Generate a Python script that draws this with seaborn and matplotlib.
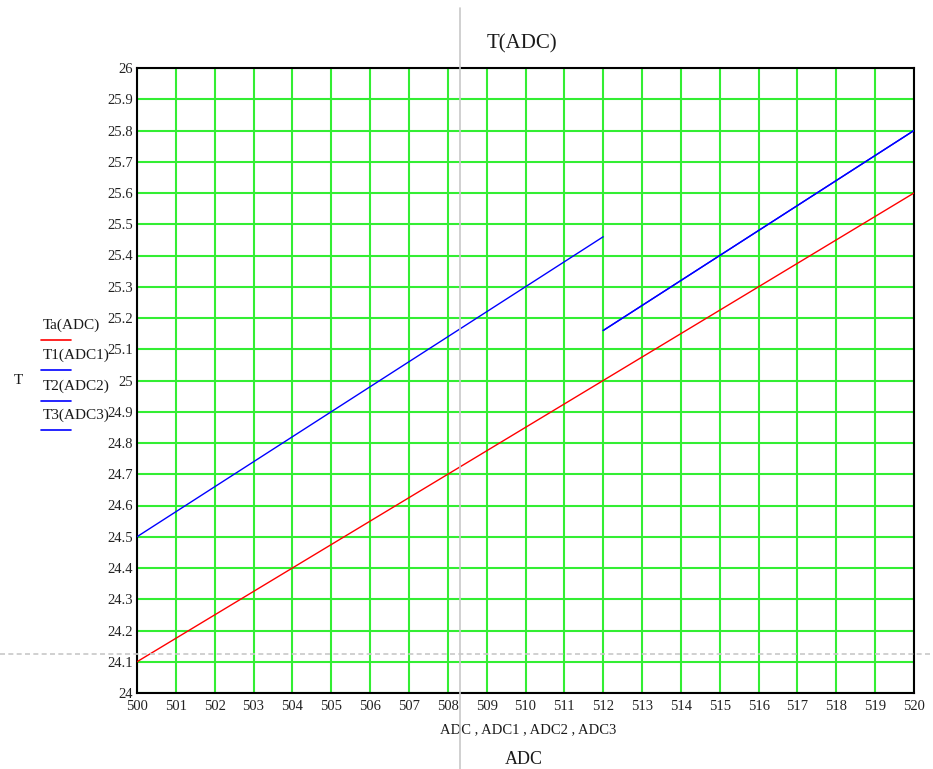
import matplotlib
matplotlib.use("Agg")
import matplotlib.pyplot as plt
import seaborn as sns
import pandas as pd
from matplotlib.lines import Line2D

# Series endpoints (straight-line relations)
ADC = [500, 520]
Ta = [24.1, 25.6]
ADC1 = [500, 512]
T1 = [24.5, 25.46]
ADC2 = [512, 520]
T2 = [25.16, 25.8]
ADC3 = [512, 520]
T3 = [25.16, 25.8]

labels = ["Ta(ADC)", "T1(ADC1)", "T2(ADC2)", "T3(ADC3)"]
colors = ["#ff0000", "#0000ff", "#0000ff", "#0000ff"]

x_ticks = list(range(500, 521))
y_ticks = [round(24 + 0.1 * i, 1) for i in range(21)]
y_tick_labels = [("%g" % v) for v in y_ticks]

sns.set_style("white")
plt.rcParams["font.family"] = ["Liberation Serif", "DejaVu Serif"]

fig = plt.figure(figsize=(9.33, 7.69), dpi=100)
ax = fig.add_axes([137 / 933, 1 - 693 / 769, (914 - 137) / 933, (693 - 68) / 769])

frames = [
    pd.DataFrame({"x": ADC, "y": Ta, "s": labels[0]}),
    pd.DataFrame({"x": ADC1, "y": T1, "s": labels[1]}),
    pd.DataFrame({"x": ADC2, "y": T2, "s": labels[2]}),
    pd.DataFrame({"x": ADC3, "y": T3, "s": labels[3]}),
]
for df, c in zip(frames, colors):
    sns.lineplot(data=df, x="x", y="y", ax=ax, color=c, linewidth=1.0,
                 legend=False, zorder=3)

ax.set_xlim(500, 520)
ax.set_ylim(24, 26)
ax.set_xticks(x_ticks)
ax.set_xticklabels([str(v) for v in x_ticks], fontsize=10.5)
ax.set_yticks(y_ticks)
ax.set_yticklabels(y_tick_labels, fontsize=10.5)
ax.tick_params(axis="x", length=0, pad=5, colors="#222222")
ax.tick_params(axis="y", length=0, pad=3, colors="#222222")
ax.grid(True, color="#33ee33", linewidth=1.5, zorder=1)
ax.set_axisbelow(True)
for sp in ax.spines.values():
    sp.set_color("#000000")
    sp.set_linewidth(1.5)
ax.set_xlabel("")
ax.set_ylabel("")

# Labels around the plot
fig.text(522 / 933, 1 - 44 / 769, "T(ADC)", fontsize=15, ha="center", va="center",
         color="#1a1a1a")
fig.text(528 / 933, 1 - 730 / 769, "ADC , ADC1 , ADC2 , ADC3", fontsize=10.5,
         ha="center", va="center", color="#1a1a1a")
fig.text(524 / 933, 1 - 760 / 769, "ADC", fontsize=13, ha="center", va="center",
         color="#1a1a1a")
fig.text(18 / 933, 1 - 380 / 769, "T", fontsize=11, ha="center", va="center",
         color="#1a1a1a")

# Series key on the left
key_y = [325, 355, 386, 415]
for lab, c, yy in zip(labels, colors, key_y):
    fig.text(43 / 933, 1 - yy / 769, lab, fontsize=11, ha="left", va="center",
             color="#1a1a1a")
    fig.add_artist(Line2D([41 / 933, 71 / 933], [1 - (yy + 15) / 769] * 2,
                          color=c, linewidth=1.2, transform=fig.transFigure))

# Trace cursor crosshair
fig.add_artist(Line2D([460 / 933] * 2, [0, 1 - 8 / 769], color="#c8c8c8",
                      linewidth=1.2, transform=fig.transFigure, zorder=5))
fig.add_artist(Line2D([0, 1], [1 - 654 / 769] * 2, color="#c8c8c8",
                      linewidth=1.2, linestyle=(0, (3, 2)),
                      transform=fig.transFigure, zorder=5))

fig.savefig("out.png", dpi=100, facecolor="white")
